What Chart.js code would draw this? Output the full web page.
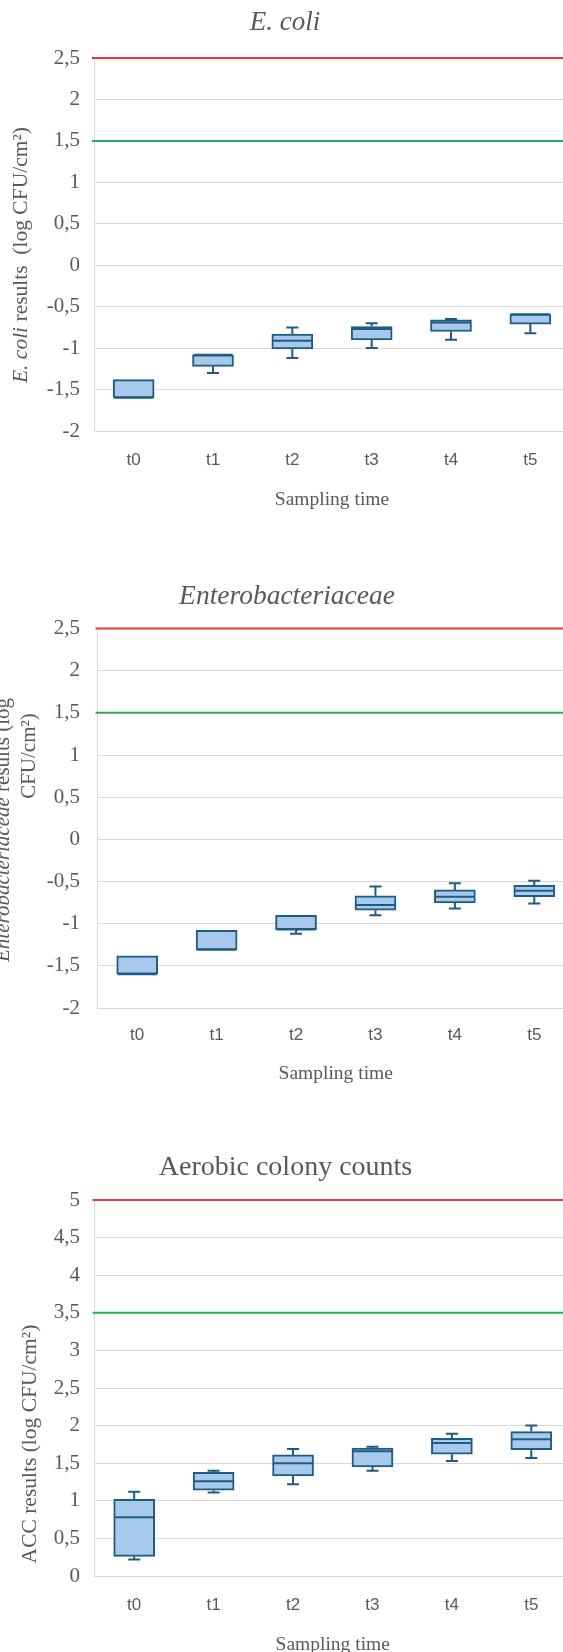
<!DOCTYPE html>
<html>
<head>
<meta charset="utf-8">
<script src="https://cdn.jsdelivr.net/npm/chart.js@4.4.1/dist/chart.umd.min.js"></script>
<style>
  html, body { margin: 0; padding: 0; background: #fff; }
  body { width: 563px; height: 1652px; overflow: hidden; position: relative; }
  .box { position: absolute; left: 0; }
</style>
</head>
<body>
<div class="box" id="ecoliBox"><canvas id="ecoliChart"></canvas></div>
<div class="box" id="enteroBox"><canvas id="enteroChart"></canvas></div>
<div class="box" id="accBox"><canvas id="accChart"></canvas></div>
<script>
const categories = ['t0', 't1', 't2', 't3', 't4', 't5'];

// E. coli (log CFU/cm2)
const ecoliMin    = [-1.60, -1.30, -1.12, -1.00, -0.90, -0.82];
const ecoliQ1     = [-1.60, -1.22, -1.01, -0.90, -0.80, -0.71];
const ecoliMedian = [-1.60, -1.08, -0.91, -0.77, -0.69, -0.59];
const ecoliQ3     = [-1.38, -1.08, -0.83, -0.74, -0.66, -0.59];
const ecoliMax    = [-1.38, -1.08, -0.75, -0.70, -0.65, -0.59];
const ecoliTicks  = [-2, -1.5, -1, -0.5, 0, 0.5, 1, 1.5, 2, 2.5];
const ecoliLimits = [2.5, 1.5];

// Enterobacteriaceae
const enteroMin    = [-1.60, -1.31, -1.12, -0.90, -0.82, -0.76];
const enteroQ1     = [-1.60, -1.31, -1.07, -0.84, -0.755, -0.68];
const enteroMedian = [-1.60, -1.31, -1.07, -0.78, -0.68, -0.61];
const enteroQ3     = [-1.38, -1.08, -0.90, -0.67, -0.60, -0.545];
const enteroMax    = [-1.38, -1.08, -0.90, -0.56, -0.52, -0.49];
const enteroTicks  = [-2, -1.5, -1, -0.5, 0, 0.5, 1, 1.5, 2, 2.5];
const enteroLimits = [2.5, 1.5];

// Aerobic colony counts
const accMin    = [0.22, 1.11, 1.22, 1.40, 1.53, 1.57];
const accQ1     = [0.26, 1.14, 1.33, 1.45, 1.62, 1.68];
const accMedian = [0.78, 1.26, 1.50, 1.66, 1.77, 1.82];
const accQ3     = [1.02, 1.38, 1.61, 1.70, 1.83, 1.92];
const accMax    = [1.12, 1.40, 1.69, 1.72, 1.89, 2.00];
const accTicks  = [0, 0.5, 1, 1.5, 2, 2.5, 3, 3.5, 4, 4.5, 5];
const accLimits = [5, 3.5];

const textGray = '#595959';
const gridGray = '#d9d9d9';
const boxFill = '#a6c9ec';
const boxLine = '#1f5b82';
const serif = "'Liberation Serif', 'Times New Roman', serif";

function makeChart(boxId, canvasId, g, d) {
    const top = g.titleC - 24;
    const H = Math.round(g.xTitleC + 14 - top);
    const wrap = document.getElementById(boxId);
    wrap.style.top = top + 'px';
    wrap.style.width = g.right + 'px';
    wrap.style.height = H + 'px';

    // limit lines, whiskers, medians and the y axis title
    const boxPlugin = {
        id: 'boxWhisker' + canvasId,
        beforeDatasetsDraw(chart) {
            const { ctx, chartArea } = chart;
            const y = chart.scales.y;
            ctx.save();
            ctx.lineWidth = 2;
            ['#ee3434', '#2aaa5e'].forEach((col, k) => {
                const py = y.getPixelForValue(d.limits[k]);
                ctx.strokeStyle = col;
                ctx.beginPath();
                ctx.moveTo(chartArea.left - 2, py);
                ctx.lineTo(chartArea.right, py);
                ctx.stroke();
            });
            ctx.restore();
        },
        afterDatasetsDraw(chart) {
            const { ctx } = chart;
            const y = chart.scales.y;
            const meta = chart.getDatasetMeta(0);
            ctx.save();
            ctx.strokeStyle = boxLine;
            ctx.lineWidth = 2;
            meta.data.forEach((bar, i) => {
                const x = bar.x;
                const half = bar.width / 2;
                const cap = 6;
                if (d.max[i] > d.q3[i]) {
                    const a = y.getPixelForValue(d.q3[i]);
                    const b = y.getPixelForValue(d.max[i]);
                    ctx.beginPath();
                    ctx.moveTo(x, a); ctx.lineTo(x, b);
                    ctx.moveTo(x - cap, b); ctx.lineTo(x + cap, b);
                    ctx.stroke();
                }
                if (d.min[i] < d.q1[i]) {
                    const a = y.getPixelForValue(d.q1[i]);
                    const b = y.getPixelForValue(d.min[i]);
                    ctx.beginPath();
                    ctx.moveTo(x, a); ctx.lineTo(x, b);
                    ctx.moveTo(x - cap, b); ctx.lineTo(x + cap, b);
                    ctx.stroke();
                }
                const m = y.getPixelForValue(d.median[i]);
                ctx.beginPath();
                ctx.moveTo(x - half + 1, m); ctx.lineTo(x + half - 1, m);
                ctx.stroke();
            });
            ctx.restore();
        },
        afterDraw(chart) {
            const { ctx } = chart;
            ctx.save();
            ctx.fillStyle = textGray;
            ctx.textBaseline = 'middle';
            ctx.textAlign = 'left';
            d.yTitle.lines.forEach(line => {
                let total = 0;
                line.parts.forEach(p => {
                    ctx.font = (p.italic ? 'italic ' : '') + d.yTitle.size + 'px ' + serif;
                    total += ctx.measureText(p.text).width;
                });
                ctx.save();
                ctx.translate(line.x, line.y - top);
                ctx.rotate(-Math.PI / 2);
                let cx = -total / 2;
                line.parts.forEach(p => {
                    ctx.font = (p.italic ? 'italic ' : '') + d.yTitle.size + 'px ' + serif;
                    ctx.fillText(p.text, cx, 0);
                    cx += ctx.measureText(p.text).width;
                });
                ctx.restore();
            });
            ctx.restore();
        }
    };

    return new Chart(document.getElementById(canvasId), {
        type: 'bar',
        data: {
            labels: categories,
            datasets: [{
                data: d.q1.map((v, i) => [v, d.q3[i]]),
                backgroundColor: boxFill,
                borderColor: boxLine,
                borderWidth: 2,
                borderSkipped: false,
                barThickness: 41
            }]
        },
        options: {
            responsive: true,
            maintainAspectRatio: false,
            animation: false,
            layout: { padding: 0 },
            plugins: {
                legend: { display: false },
                tooltip: { enabled: false },
                title: {
                    display: true,
                    text: d.title,
                    color: textGray,
                    font: { family: serif, size: d.titleSize, weight: 'normal', style: d.titleItalic ? 'italic' : 'normal', lineHeight: 1.2 },
                    padding: { top: 24 - d.titleSize * 0.6, bottom: g.plotTop - g.titleC - d.titleSize * 0.6 }
                }
            },
            scales: {
                x: {
                    grid: { display: false, drawTicks: false },
                    border: { display: true, color: gridGray },
                    ticks: {
                        color: textGray,
                        font: { family: "'Liberation Sans', Arial, sans-serif", size: 17, lineHeight: 1.2 },
                        padding: g.tickC - g.plotBottom - 10.2
                    },
                    title: {
                        display: true,
                        text: 'Sampling time',
                        color: textGray,
                        font: { family: serif, size: 19.5, lineHeight: 1.2 },
                        padding: { top: 0, bottom: 2 }
                    },
                    afterFit: s => { s.height = H - (g.plotBottom - top); }
                },
                y: {
                    min: d.ticks[0],
                    max: d.ticks[d.ticks.length - 1],
                    afterBuildTicks: s => { s.ticks = d.ticks.map(v => ({ value: v })); },
                    ticks: {
                        color: textGray,
                        font: { family: serif, size: 21 },
                        padding: g.axisLeft - 80,
                        callback: v => String(v).replace('.', ',')
                    },
                    grid: { color: gridGray, drawTicks: false },
                    border: { display: true, color: gridGray },
                    afterFit: s => { s.width = g.axisLeft; }
                }
            }
        },
        plugins: [boxPlugin]
    });
}

makeChart('ecoliBox', 'ecoliChart',
    { titleC: 23, plotTop: 58, plotBottom: 431, tickC: 460, xTitleC: 500, axisLeft: 94, right: 570 },
    {
        title: 'E. coli', titleItalic: true, titleSize: 27,
        min: ecoliMin, q1: ecoliQ1, median: ecoliMedian, q3: ecoliQ3, max: ecoliMax,
        ticks: ecoliTicks, limits: ecoliLimits,
        yTitle: { size: 21.5, lines: [
            { x: 21.5, y: 255, parts: [{ text: 'E. coli', italic: true }, { text: ' results  (log CFU/cm²)' }] }
        ] }
    });

makeChart('enteroBox', 'enteroChart',
    { titleC: 597, plotTop: 628.5, plotBottom: 1008, tickC: 1035, xTitleC: 1074, axisLeft: 97.5, right: 574 },
    {
        title: 'Enterobacteriaceae', titleItalic: true, titleSize: 27.5,
        min: enteroMin, q1: enteroQ1, median: enteroMedian, q3: enteroQ3, max: enteroMax,
        ticks: enteroTicks, limits: enteroLimits,
        yTitle: { size: 21, lines: [
            { x: 3, y: 830, parts: [{ text: 'Enterobacteriaceae', italic: true }, { text: ' results (log' }] },
            { x: 29, y: 756, parts: [{ text: 'CFU/cm²)' }] }
        ] }
    });

makeChart('accBox', 'accChart',
    { titleC: 1168, plotTop: 1200, plotBottom: 1576, tickC: 1605, xTitleC: 1645, axisLeft: 94.5, right: 571 },
    {
        title: 'Aerobic colony counts', titleItalic: false, titleSize: 28,
        min: accMin, q1: accQ1, median: accMedian, q3: accQ3, max: accMax,
        ticks: accTicks, limits: accLimits,
        yTitle: { size: 21.5, lines: [
            { x: 30, y: 1444, parts: [{ text: 'ACC results (log CFU/cm²)' }] }
        ] }
    });
</script>
</body>
</html>
